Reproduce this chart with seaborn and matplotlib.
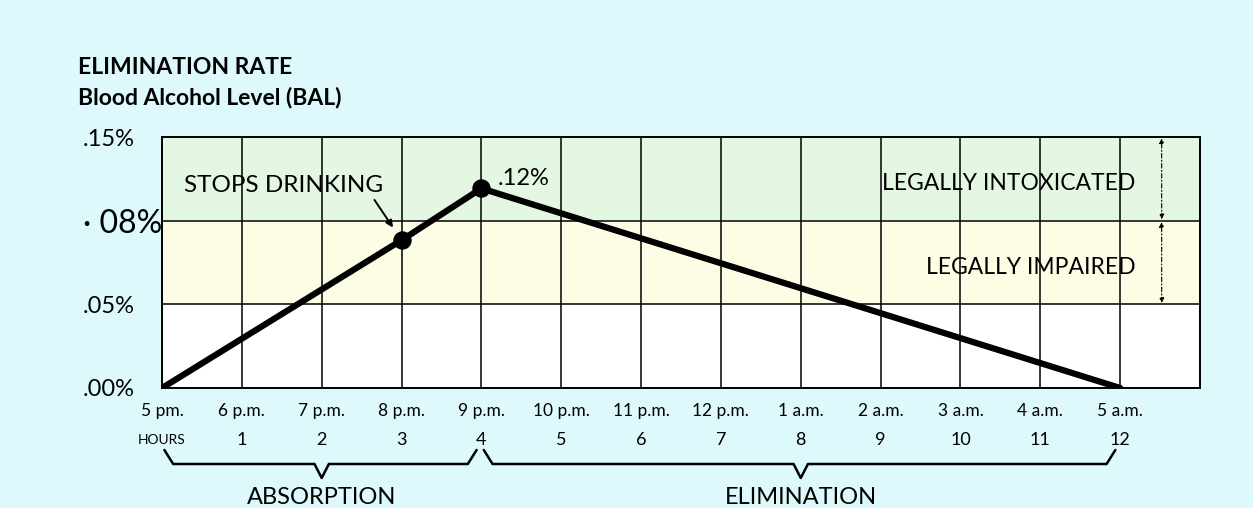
import numpy as np
import matplotlib
matplotlib.use("Agg")
import matplotlib.pyplot as plt
import matplotlib.transforms as mtransforms
import seaborn as sns

# ---- data ----
hours = [0, 3, 4, 12]                  # hours after 5 pm
bal = [0.0, 0.073, 0.107, 0.0]         # blood alcohol level (%)
marked_hours = [3, 4]
marked_bal = [0.073, 0.107]

time_labels = ["5 pm.", "6 p.m.", "7 p.m.", "8 p.m.", "9 p.m.", "10 p.m.", "11 p.m.",
               "12 p.m.", "1 a.m.", "2 a.m.", "3 a.m.", "4 a.m.", "5 a.m."]
hour_labels = ["HOURS", "1", "2", "3", "4", "5", "6", "7", "8", "9", "10", "11", "12"]

bal_ticks = [0.0, 0.05, 0.08, 0.15]
bal_tick_labels = [".00%", ".05%", "\u00b7 08%", ".15%"]

zone_names = ["LEGALLY IMPAIRED", "LEGALLY INTOXICATED"]
zone_lo = [0.05, 0.08]
zone_hi = [0.08, 0.15]
zone_colors = ["#fdfde6", "#e4f7e3"]

phase_names = ["ABSORPTION", "ELIMINATION"]
phase_start = [0, 4]
phase_end = [4, 12]

bg = "#ddf9fc"

sns.set_style("white")
plt.rcParams['font.family'] = ['Lato', 'DejaVu Sans']
plt.rcParams['text.color'] = 'black'
plt.rcParams['xtick.color'] = 'black'
plt.rcParams['ytick.color'] = 'black'

W, H = 1253, 508
fig = plt.figure(figsize=(W / 100, H / 100), dpi=100, facecolor=bg)
ax = fig.add_axes([162 / W, 1 - 388 / H, (1200 - 162) / W, (388 - 137) / H])
ax.set_facecolor("white")

# the chart's y axis is not linear: each tick gets one equal row
rows = np.arange(len(bal_ticks))
def fwd(v):
    return np.interp(v, bal_ticks, rows)
def inv(p):
    return np.interp(p, rows, bal_ticks)
ax.set_yscale('function', functions=(fwd, inv))
ax.set_xlim(0, 13)
ax.set_ylim(bal_ticks[0], bal_ticks[-1])

for lo, hi, c in zip(zone_lo, zone_hi, zone_colors):
    ax.axhspan(lo, hi, color=c, zorder=0, lw=0)

sns.lineplot(x=hours, y=bal, color="black", lw=4.5, ax=ax, zorder=3)
sns.scatterplot(x=marked_hours, y=marked_bal, color="black", s=150, ax=ax,
                zorder=4, edgecolor="black")

# grid
ax.set_xticks(range(len(time_labels)))
ax.set_xticklabels(time_labels, fontsize=12.5)
ax.set_yticks(bal_ticks)
ax.set_yticklabels(bal_tick_labels, ha="left", fontsize=17)
ax.get_yticklabels()[2].set_fontsize(23)
ax.tick_params(axis="y", length=0, pad=57)
ax.tick_params(axis="x", length=0, pad=11)
ax.grid(True, color="black", lw=1.1)
ax.set_axisbelow("line")
for s in ax.spines.values():
    s.set_color("black")
    s.set_linewidth(1.4)

# hour counts under the times
tr = mtransforms.blended_transform_factory(ax.transData, fig.transFigure)
for i, lab in enumerate(hour_labels):
    ax.text(i, 1 - 440 / H, lab, transform=tr, ha="center", va="center",
            fontsize=10 if i == 0 else 13)

# annotations
ax.annotate("STOPS DRINKING", xy=(marked_hours[0], marked_bal[0]),
            xytext=(-85, 39.5), textcoords="offset points",
            ha="center", va="center", fontsize=17.5)
ax.annotate("", xy=(marked_hours[0], marked_bal[0]), xytext=(-19.5, 29),
            textcoords="offset points",
            arrowprops=dict(arrowstyle="-|>", color="black", lw=1.4,
                            mutation_scale=10, shrinkA=0, shrinkB=11))
ax.annotate(".12%", xy=(marked_hours[1], marked_bal[1]),
            xytext=(11.5, 7), textcoords="offset points",
            ha="left", va="center", fontsize=17)

# legal zones
for name, lo, hi in zip(zone_names, zone_lo, zone_hi):
    ymid = inv((fwd(lo) + fwd(hi)) / 2 - 0.06)
    ax.text(12.19, ymid, name, ha="right", va="center", fontsize=16.5)
    ax.annotate("", xy=(12.52, hi), xytext=(12.52, lo),
                arrowprops=dict(arrowstyle="<|-|>", color="black", lw=0.8,
                                linestyle=(0, (4, 2, 1, 2)), mutation_scale=7,
                                shrinkA=1, shrinkB=1))

# braces for the two phases
y_top, y_bar, y_tip = 1 - 450 / H, 1 - 464 / H, 1 - 478 / H
for name, a, b in zip(phase_names, phase_start, phase_end):
    a2, b2 = a + 0.03, b - 0.06
    m = (a + b) / 2
    xs = [a2, a2 + 0.11, m - 0.09, m, m + 0.09, b2 - 0.11, b2]
    ys = [y_top, y_bar, y_bar, y_tip, y_bar, y_bar, y_top]
    ax.plot(xs, ys, color="black", lw=1.8, transform=tr, clip_on=False)
    ax.text(m, 1 - 498 / H, name, transform=tr, ha="center", va="center",
            fontsize=17)

fig.text(78 / W, 1 - 67 / H, "ELIMINATION RATE", fontsize=16.5, fontweight="bold",
         ha="left", va="center")
fig.text(78 / W, 1 - 97 / H, "Blood Alcohol Level (BAL)", fontsize=16.5,
         fontweight="bold", ha="left", va="center")

fig.savefig("out.png", dpi=100, facecolor=bg)
